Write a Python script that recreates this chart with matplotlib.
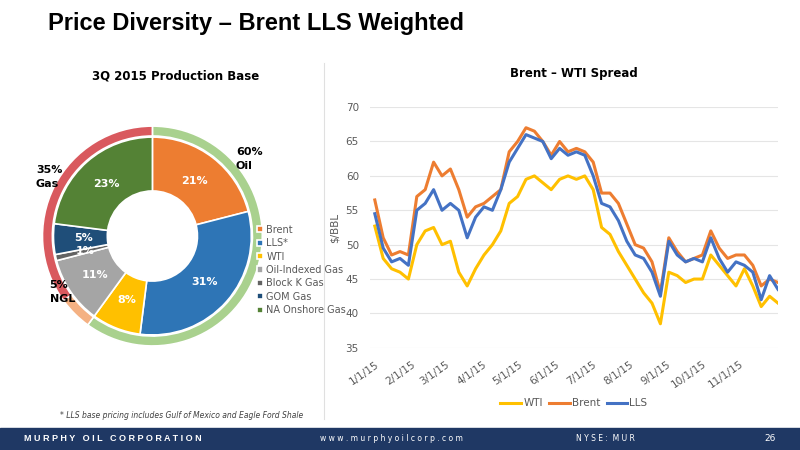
import matplotlib
matplotlib.use("Agg")
import matplotlib.pyplot as plt
import pandas as pd

pie_labels = ["Brent", "LLS*", "WTI", "Oil-Indexed Gas", "Block K Gas", "GOM Gas", "NA Onshore Gas"]
pie_values = [21, 31, 8, 11, 1, 5, 23]
pie_colors = ["#ED7D31", "#2E75B6", "#FFC000", "#A5A5A5", "#636363", "#1F4E79", "#548235"]
outer_labels = ["Oil", "NGL", "Gas"]
outer_values = [60, 5, 35]
outer_colors = ["#A9D18E", "#F4B183", "#D9595E"]

wti = [52.7, 48, 46.5, 46, 45, 50, 52, 52.5, 50, 50.5, 46, 44, 46.5, 48.5, 50, 52, 56, 57,
       59.5, 60, 59, 58, 59.5, 60, 59.5, 60, 58, 52.5, 51.5, 49, 47, 45, 43, 41.5, 38.5,
       46, 45.5, 44.5, 45, 45, 48.5, 47, 45.5, 44, 46.5, 44, 41, 42.5, 41.5]
brent = [56.5, 51, 48.5, 49, 48.5, 57, 58, 62, 60, 61, 58, 54, 55.5, 56, 57, 58, 63.5, 65,
         67, 66.5, 65, 63, 65, 63.5, 64, 63.5, 62, 57.5, 57.5, 56, 53, 50, 49.5, 47.5, 43,
         51, 49, 47.5, 48, 48.5, 52, 49.5, 48, 48.5, 48.5, 47, 44, 45, 44.5]
lls = [54.5, 49.5, 47.5, 48, 47, 55, 56, 58, 55, 56, 55, 51, 54, 55.5, 55, 58, 62, 64,
       66, 65.5, 65, 62.5, 64, 63, 63.5, 63, 60, 56, 55.5, 53.5, 50.5, 48.5, 48, 46, 42.5,
       50.5, 48.5, 47.5, 48, 47.5, 51, 48, 46, 47.5, 47, 46, 42, 45.5, 43.5]
dates = pd.date_range("2015-01-01", periods=len(wti), freq="7D")
tick_labels = ["1/1/15", "2/1/15", "3/1/15", "4/1/15", "5/1/15", "6/1/15", "7/1/15",
               "8/1/15", "9/1/15", "10/1/15", "11/1/15"]

fig = plt.figure(figsize=(8, 4.5), dpi=100)
fig.patch.set_facecolor("white")
fig.text(0.06, 0.947, "Price Diversity – Brent LLS Weighted", fontsize=17, fontweight="bold",
         family="Liberation Sans", va="center")
# footer
fig.add_artist(plt.Rectangle((0, 0), 1, 0.05, color="#1F3864", transform=fig.transFigure))
fig.text(0.03, 0.025, "M U R P H Y   O I L   C O R P O R A T I O N", color="white", fontsize=6.5,
         fontweight="bold", va="center", family="Liberation Sans")
fig.text(0.40, 0.025, "w w w . m u r p h y o i l c o r p . c o m", color="white", fontsize=5.5, va="center")
fig.text(0.72, 0.025, "N Y S E :  M U R", color="white", fontsize=5.5, va="center")
fig.text(0.97, 0.025, "26", color="white", fontsize=6.5, va="center", ha="right")
fig.text(0.075, 0.071, "* LLS base pricing includes Gulf of Mexico and Eagle Ford Shale",
         fontsize=5.5, style="italic", color="#404040")
fig.add_artist(plt.Line2D([0.405, 0.405], [0.07, 0.86], color="#E0E0E0", lw=0.8))

# donut
ax1 = fig.add_axes([0.046, 0.219, 0.289, 0.513])
ax1.pie(outer_values, radius=1.0, colors=outer_colors, startangle=90, counterclock=False,
        wedgeprops=dict(width=0.09, edgecolor="white", linewidth=1.2))
w, _, autot = ax1.pie(pie_values, radius=0.9, colors=pie_colors, startangle=90, counterclock=False,
        wedgeprops=dict(width=0.49, edgecolor="white", linewidth=1.2),
        autopct=lambda p: f"{p:.0f}%", pctdistance=0.7,
        textprops=dict(color="white", fontsize=8, fontweight="bold"))
ax1.set_aspect("equal")
ax1.set_xlim(-1.05, 1.05)
ax1.set_ylim(-1.05, 1.05)
fig.text(0.22, 0.823, "3Q 2015 Production Base", fontsize=8.5, fontweight="bold", ha="center")
fig.text(0.295, 0.625, "60%\nOil", fontsize=8, fontweight="bold", linespacing=1.5)
fig.text(0.045, 0.585, "35%\nGas", fontsize=8, fontweight="bold", linespacing=1.5)
fig.text(0.062, 0.33, "5%\nNGL", fontsize=8, fontweight="bold", linespacing=1.5)
fig.legend(w, pie_labels, loc="upper left", bbox_to_anchor=(0.31, 0.52), frameon=False,
           fontsize=7, handlelength=0.6, handleheight=0.6, labelcolor="#595959",
           handletextpad=0.4, labelspacing=0.35)

# lines
ax = fig.add_axes([0.4625, 0.227, 0.51, 0.535])
ax.plot(dates, wti, color="#FFC000", lw=2.2, label="WTI")
ax.plot(dates, brent, color="#ED7D31", lw=2.2, label="Brent")
ax.plot(dates, lls, color="#4472C4", lw=2.2, label="LLS")
ax.set_ylim(35, 70)
ax.set_yticks(range(35, 71, 5))
ax.set_xlim(pd.Timestamp("2014-12-28"), pd.Timestamp("2015-12-03"))
ticks = pd.date_range("2015-01-01", periods=11, freq="MS")
ax.set_xticks(ticks)
ax.set_xticklabels(tick_labels, rotation=35, ha="right", fontsize=7.5, color="#595959",
                   rotation_mode="anchor")
ax.tick_params(axis="y", labelsize=7.5, labelcolor="#595959", length=0, pad=8)
ax.tick_params(axis="x", length=0, pad=8)
ax.grid(axis="y", color="#E5E5E5", lw=0.8)
for s in ax.spines.values():
    s.set_visible(False)
ax.set_ylabel("$/BBL", fontsize=7.5, color="#595959")
ax.set_title("Brent – WTI Spread", fontsize=8.5, fontweight="bold", pad=22)
ax.legend(loc="upper center", bbox_to_anchor=(0.5, -0.17), ncol=3, frameon=False, fontsize=7.5,
          handlelength=2, handletextpad=0.2, columnspacing=0.6, labelcolor="#595959")
fig.savefig("out.png", dpi=100)
